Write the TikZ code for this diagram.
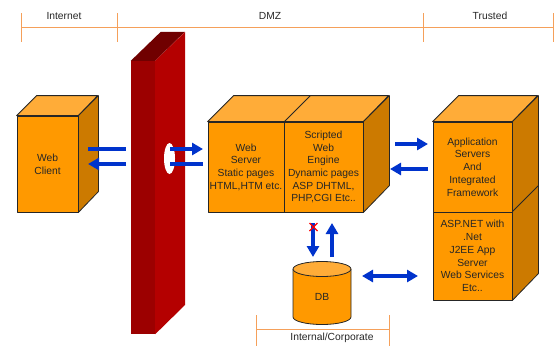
\documentclass[tikz,border=0pt]{standalone}
\usepackage{fontspec}
\setmainfont{Liberation Sans}
\usetikzlibrary{arrows.meta,shapes.geometric}

\definecolor{boxfront}{RGB}{255,153,0}
\definecolor{boxtop}{RGB}{255,172,56}
\definecolor{boxside}{RGB}{204,122,0}
\definecolor{wallfront}{RGB}{156,0,0}
\definecolor{wallside}{RGB}{180,0,0}
\definecolor{walltop}{RGB}{112,0,0}
\definecolor{flowblue}{RGB}{0,51,204}
\definecolor{zoneline}{RGB}{245,160,90}

\tikzset{
  txt/.style={font=\fontsize{10.3}{12.7}\selectfont, text=black!85, align=center},
  face/.style={draw=black!85, line width=0.8pt, line join=round},
  front/.style={face, fill=boxfront, inner sep=0pt, txt},
  topface/.style={face, fill=boxtop},
  sideface/.style={face, fill=boxside},
  flow/.style={draw=flowblue, line width=4pt, -{Triangle[length=11pt,width=12pt]}},
  flowbare/.style={draw=flowblue, line width=4pt},
  flowboth/.style={draw=flowblue, line width=4pt, {Triangle[length=11pt,width=12pt]}-{Triangle[length=11pt,width=12pt]}},
  zone/.style={draw=zoneline, line width=0.9pt},
}

\begin{document}
\begin{tikzpicture}[x=1pt,y=-1pt]
\useasboundingbox (0,0) rectangle (557,346);

% zone header
\draw[zone] (21,27) -- (553,27);
\foreach \xx in {21,117,423,553} \draw[zone] (\xx,13) -- (\xx,42);
\node[txt] (zinet) at (64,16) {Internet};
\node[txt] (zdmz) at (270,16) {DMZ};
\node[txt] (ztrust) at (490,16) {Trusted};

% web client box
\node[front, minimum width=61pt, minimum height=96pt] (client) at (47.5,164) {Web\\Client};
\draw[topface] (client.north west) -- ++(20,-20) -- ++(61,0) -- (client.north east) -- cycle;
\draw[sideface] (client.north east) -- ++(20,-20) -- ++(0,96) -- (client.south east) -- cycle;

% firewall
\node[fill=wallfront, inner sep=0pt, minimum width=24pt, minimum height=273pt] (fw) at (143,197.5) {};
\fill[walltop] (fw.north west) -- ++(30,-29) -- ++(24,0) -- (fw.north east) -- cycle;
\fill[wallside] (fw.north east) -- ++(30,-29) -- ++(0,273) -- (fw.south east) -- cycle;
\node[ellipse, fill=white, inner sep=0pt, minimum width=11pt, minimum height=31pt] (hole) at (169.5,158.5) {};

% web server / scripted engine block
\node[front, minimum width=76pt, minimum height=90pt] (ws) at (246,167)
  {Web\\Server\\Static pages\\HTML,HTM etc.};
\node[front, minimum width=79pt, minimum height=90pt] (we) at (323.5,167)
  {Scripted\\Web\\Engine\\Dynamic pages\\ASP DHTML,\\PHP,CGI Etc..};
\draw[topface] (ws.north west) -- ++(26,-26) -- ++(155,0) -- (we.north east) -- cycle;
\draw[face] (ws.north east) -- ++(26,-26);
\draw[sideface] (we.north east) -- ++(26,-26) -- ++(0,90) -- (we.south east) -- cycle;

% application server stack
\node[front, minimum width=79pt, minimum height=90pt] (app) at (472.5,167)
  {Application\\Servers\\And\\Integrated\\Framework};
\node[front, minimum width=79pt, minimum height=88pt] (svc) at (472.5,256)
  {ASP.NET with\\.Net\\J2EE App\\Server\\Web Services\\Etc..};
\draw[topface] (app.north west) -- ++(26,-26) -- ++(79,0) -- (app.north east) -- cycle;
\draw[sideface] (app.north east) -- ++(26,-26) -- ++(0,178) -- (svc.south east) -- cycle;
\draw[face] (svc.north east) -- ++(26,-26);

% database
\path[face, fill=boxfront] (293,269) -- (293,317)
  arc[start angle=180, end angle=0, x radius=29, y radius=7.5] -- (351,269);
\draw[face, fill=boxtop] (322,269) ellipse[x radius=29, y radius=7.5];
\node[txt] (db) at (322,297) {DB};

% client <-> server through the firewall
\coordinate (c1) at (88,149);  \coordinate (c2) at (126,149);
\coordinate (c3) at (126,164); \coordinate (c4) at (88,164);
\coordinate (h1) at (170,149); \coordinate (s1) at (203,149);
\coordinate (h2) at (170,164); \coordinate (s2) at (203,164);
\draw[flowbare] (c1) -- (c2);
\draw[flow] (c3) -- (c4);
\draw[flow] (h1) -- (s1);
\draw[flowbare] (s2) -- (h2);

% server <-> application server
\coordinate (e1) at (395,144); \coordinate (a1) at (428,144);
\coordinate (a2) at (428,169); \coordinate (e2) at (390,169);
\draw[flow] (e1) -- (a1);
\draw[flow] (a2) -- (e2);

% server <-> database
\coordinate (d1) at (313,223); \coordinate (d2) at (313,257);
\coordinate (u1) at (332,257); \coordinate (u2) at (332,223);
\draw[flow] (d1) -- (d2);
\draw[flow] (u1) -- (u2);
\draw[red, line width=1.2pt] (309.5,223) -- (317.5,231) (317.5,223) -- (309.5,231);

% database <-> application services
\coordinate (b1) at (362,276); \coordinate (b2) at (418,276);
\draw[flowboth] (b1) -- (b2);

% internal zone marker
\draw[zone] (256,329) -- (389,329);
\draw[zone] (256,315) -- (256,346) (389,315) -- (389,346);
\node[txt] (zint) at (332,337.5) {Internal/Corporate};
\end{tikzpicture}
\end{document}
